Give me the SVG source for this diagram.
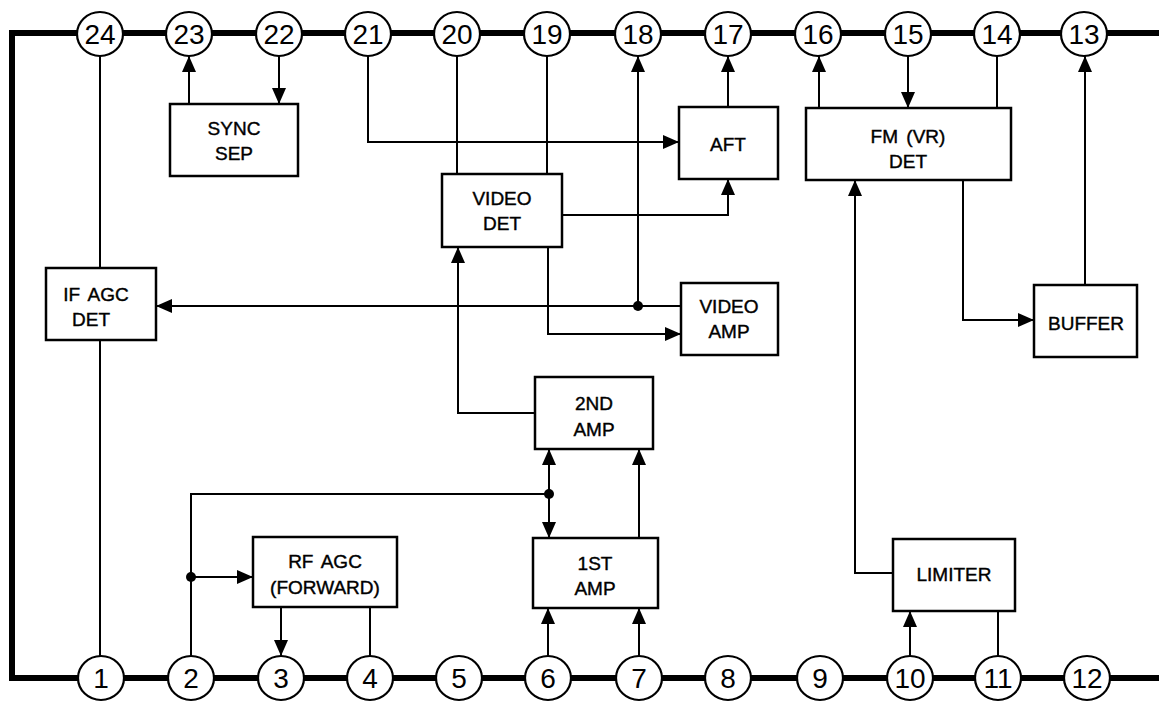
<svg xmlns="http://www.w3.org/2000/svg" width="1159" height="704" viewBox="0 0 1159 704">
<defs>
<marker id="ah" markerUnits="userSpaceOnUse" markerWidth="16" markerHeight="14" refX="16" refY="7" orient="auto">
<path d="M0,0 L16,7 L0,14 z" fill="#000"/>
</marker>
<style>
.bus{fill:none;stroke:#000;stroke-width:6}
.pin ellipse{fill:#fff;stroke:#000;stroke-width:2.2}
.pin text{font-family:"Liberation Sans",Arial,sans-serif;font-size:28px;text-anchor:middle;fill:#000}
.box rect{fill:#fff;stroke:#000;stroke-width:2.5}
.box text{font-family:"Liberation Sans",Arial,sans-serif;font-size:19px;text-anchor:middle;fill:#000;stroke:#000;stroke-width:0.4;word-spacing:3px}
.c{fill:none;stroke:#000;stroke-width:2}
.a{marker-end:url(#ah)}
.dot{fill:#000}
</style>
</defs>
<rect width="1159" height="704" fill="#fff"/>
<path class="bus" d="M1159,33 H12 V678 H1159"/>

<g id="connectors">
<path class="c" d="M100,56 V268"/>
<path class="c" d="M100,340 V656"/>
<path class="c a" d="M189,104 V56"/>
<path class="c a" d="M279,56 V104"/>
<path class="c a" d="M368,56 V142 H679"/>
<path class="c" d="M457,56 V174"/>
<path class="c" d="M547,56 V174"/>
<path class="c a" d="M728,107 V56"/>
<path class="c a" d="M562,215 H728 V179"/>
<path class="c a" d="M638,306 V56"/>
<path class="c a" d="M681,306 H156"/>
<circle class="dot" cx="638" cy="306" r="5"/>
<path class="c a" d="M548,247 V334 H681"/>
<path class="c a" d="M535,413 H458 V247"/>
<path class="c a" d="M819,108 V56"/>
<path class="c a" d="M908,56 V108"/>
<path class="c" d="M997,108 V56"/>
<path class="c a" d="M963,180 V320 H1034"/>
<path class="c a" d="M1085,285 V56"/>
<path class="c a" d="M893,573 H855 V180"/>
<path class="c a" d="M910,656 V611"/>
<path class="c" d="M998,611 V656"/>
<path class="c" d="M191,656 V494 H549"/>
<circle class="dot" cx="549" cy="494" r="5"/>
<path class="c a" d="M549,494 V449"/>
<path class="c a" d="M549,494 V538"/>
<circle class="dot" cx="191" cy="577" r="5"/>
<path class="c a" d="M191,577 H253"/>
<path class="c a" d="M281,607 V656"/>
<path class="c" d="M370,607 V656"/>
<path class="c a" d="M639,538 V449"/>
<path class="c a" d="M548,656 V608"/>
<path class="c a" d="M639,656 V608"/>
</g>

<g id="pins-top">
<g id="pin24" class="pin"><ellipse cx="100" cy="34" rx="23" ry="22"/><text x="100" y="44">24</text></g>
<g id="pin23" class="pin"><ellipse cx="189" cy="34" rx="23" ry="22"/><text x="189" y="44">23</text></g>
<g id="pin22" class="pin"><ellipse cx="279" cy="34" rx="23" ry="22"/><text x="279" y="44">22</text></g>
<g id="pin21" class="pin"><ellipse cx="368" cy="34" rx="23" ry="22"/><text x="368" y="44">21</text></g>
<g id="pin20" class="pin"><ellipse cx="457" cy="34" rx="23" ry="22"/><text x="457" y="44">20</text></g>
<g id="pin19" class="pin"><ellipse cx="547" cy="34" rx="23" ry="22"/><text x="547" y="44">19</text></g>
<g id="pin18" class="pin"><ellipse cx="638" cy="34" rx="23" ry="22"/><text x="638" y="44">18</text></g>
<g id="pin17" class="pin"><ellipse cx="728" cy="34" rx="23" ry="22"/><text x="728" y="44">17</text></g>
<g id="pin16" class="pin"><ellipse cx="818" cy="34" rx="23" ry="22"/><text x="818" y="44">16</text></g>
<g id="pin15" class="pin"><ellipse cx="908" cy="34" rx="23" ry="22"/><text x="908" y="44">15</text></g>
<g id="pin14" class="pin"><ellipse cx="997" cy="34" rx="23" ry="22"/><text x="997" y="44">14</text></g>
<g id="pin13" class="pin"><ellipse cx="1084" cy="34" rx="23" ry="22"/><text x="1084" y="44">13</text></g>
</g>

<g id="pins-bottom">
<g id="pin1" class="pin"><ellipse cx="101" cy="678" rx="23" ry="22"/><text x="101" y="688">1</text></g>
<g id="pin2" class="pin"><ellipse cx="191" cy="678" rx="23" ry="22"/><text x="191" y="688">2</text></g>
<g id="pin3" class="pin"><ellipse cx="281" cy="678" rx="23" ry="22"/><text x="281" y="688">3</text></g>
<g id="pin4" class="pin"><ellipse cx="370" cy="678" rx="23" ry="22"/><text x="370" y="688">4</text></g>
<g id="pin5" class="pin"><ellipse cx="459" cy="678" rx="23" ry="22"/><text x="459" y="688">5</text></g>
<g id="pin6" class="pin"><ellipse cx="548" cy="678" rx="23" ry="22"/><text x="548" y="688">6</text></g>
<g id="pin7" class="pin"><ellipse cx="639" cy="678" rx="23" ry="22"/><text x="639" y="688">7</text></g>
<g id="pin8" class="pin"><ellipse cx="728" cy="678" rx="23" ry="22"/><text x="728" y="688">8</text></g>
<g id="pin9" class="pin"><ellipse cx="820" cy="678" rx="23" ry="22"/><text x="820" y="688">9</text></g>
<g id="pin10" class="pin"><ellipse cx="910" cy="678" rx="23" ry="22"/><text x="910" y="688">10</text></g>
<g id="pin11" class="pin"><ellipse cx="998" cy="678" rx="23" ry="22"/><text x="998" y="688">11</text></g>
<g id="pin12" class="pin"><ellipse cx="1087" cy="678" rx="23" ry="22"/><text x="1087" y="688">12</text></g>
</g>

<g id="sync-sep" class="box"><rect x="170" y="104" width="128" height="72"/><text x="234" y="135">SYNC</text><text x="234" y="160">SEP</text></g>
<g id="if-agc-det" class="box"><rect x="46" y="268" width="110" height="72"/><text x="96" y="301">IF AGC</text><text x="91" y="326">DET</text></g>
<g id="aft" class="box"><rect x="679" y="107" width="99" height="72"/><text x="728" y="151">AFT</text></g>
<g id="video-det" class="box"><rect x="442" y="174" width="120" height="73"/><text x="502" y="205">VIDEO</text><text x="502" y="230">DET</text></g>
<g id="video-amp" class="box"><rect x="681" y="283" width="97" height="72"/><text x="729" y="313">VIDEO</text><text x="729" y="338">AMP</text></g>
<g id="fm-det" class="box"><rect x="806" y="108" width="205" height="72"/><text x="908" y="143">FM (VR)</text><text x="908" y="168">DET</text></g>
<g id="buffer" class="box"><rect x="1034" y="285" width="103" height="72"/><text x="1086" y="330">BUFFER</text></g>
<g id="second-amp" class="box"><rect x="535" y="377" width="118" height="72"/><text x="594" y="410">2ND</text><text x="594" y="436">AMP</text></g>
<g id="rf-agc" class="box"><rect x="253" y="537" width="144" height="70"/><text x="325" y="568">RF AGC</text><text x="325" y="594">(FORWARD)</text></g>
<g id="first-amp" class="box"><rect x="533" y="538" width="125" height="70"/><text x="595" y="570">1ST</text><text x="595" y="595">AMP</text></g>
<g id="limiter" class="box"><rect x="893" y="539" width="122" height="72"/><text x="954" y="581">LIMITER</text></g>
</svg>
